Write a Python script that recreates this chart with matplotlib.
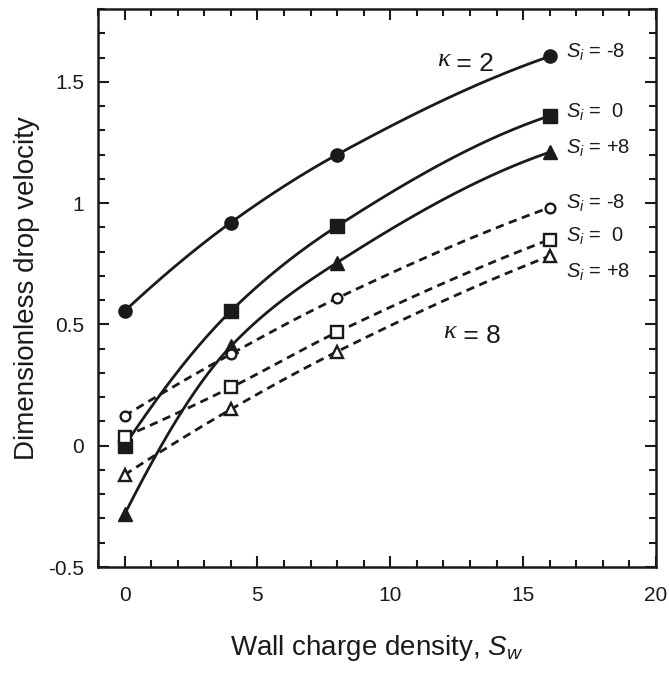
import numpy as np
import matplotlib
matplotlib.use("Agg")
import matplotlib.pyplot as plt
from matplotlib.ticker import MultipleLocator

plt.rcParams['font.family'] = ['Liberation Sans', 'DejaVu Sans']
plt.rcParams['mathtext.fontset'] = 'custom'
plt.rcParams['mathtext.rm'] = 'Liberation Sans'
plt.rcParams['mathtext.it'] = 'Liberation Sans:italic'

# Wall charge density values
sw = [0, 4, 8, 16]

# kappa = 2 (solid lines, filled markers)
k2_m8 = [0.555, 0.92, 1.20, 1.605]
k2_0 = [0.0, 0.555, 0.905, 1.36]
k2_p8 = [-0.283, 0.41, 0.755, 1.21]

# kappa = 8 (dashed lines, open markers)
k8_m8 = [0.123, 0.378, 0.608, 0.982]
k8_0 = [0.037, 0.24, 0.468, 0.85]
k8_p8 = [-0.12, 0.15, 0.388, 0.782]

series_labels = [r"$S_{i}$ = -8", r"$S_{i}$ =  0", r"$S_{i}$ = +8"]

ink = "#1a1a1a"


def pchip(x, y, n=200):
    # shape preserving cubic through the points, for the smooth curves
    x = np.asarray(x, float)
    y = np.asarray(y, float)
    h = np.diff(x)
    dl = np.diff(y) / h
    d = np.zeros_like(y)
    for k in range(1, len(x) - 1):
        if dl[k - 1] * dl[k] > 0:
            w1 = 2 * h[k] + h[k - 1]
            w2 = h[k] + 2 * h[k - 1]
            d[k] = (w1 + w2) / (w1 / dl[k - 1] + w2 / dl[k])
    d[0] = ((2 * h[0] + h[1]) * dl[0] - h[0] * dl[1]) / (h[0] + h[1])
    d[-1] = ((2 * h[-1] + h[-2]) * dl[-1] - h[-1] * dl[-2]) / (h[-1] + h[-2])
    xs = np.linspace(x[0], x[-1], n)
    k = np.clip(np.searchsorted(x, xs) - 1, 0, len(x) - 2)
    t = (xs - x[k]) / h[k]
    h00 = 2 * t**3 - 3 * t**2 + 1
    h10 = t**3 - 2 * t**2 + t
    h01 = -2 * t**3 + 3 * t**2
    h11 = t**3 - t**2
    ys = h00 * y[k] + h10 * h[k] * d[k] + h01 * y[k + 1] + h11 * h[k] * d[k + 1]
    return xs, ys


fig = plt.figure(figsize=(6.69, 6.73), dpi=100)
ax = fig.add_axes([0.1465, 0.1575, 0.834, 0.829])

# kappa = 2 curves
for y, mk, ms in [(k2_m8, 'o', 9.5), (k2_0, 's', 10), (k2_p8, '^', 10.5)]:
    xs, ys = pchip(sw, y)
    ax.plot(xs, ys, color=ink, lw=2.0, zorder=2)
    ax.plot(sw, y, ls='none', marker=mk, ms=ms, color=ink, zorder=3)

# kappa = 8 curves
for y, mk, ms in [(k8_m8, 'o', 7), (k8_0, 's', 8.5), (k8_p8, '^', 8)]:
    xs, ys = pchip(sw, y)
    ax.plot(xs, ys, color=ink, lw=2.0, ls=(0, (3.0, 2.0)), zorder=2)
    ax.plot(sw, y, ls='none', marker=mk, ms=ms, mfc='white', mec=ink,
            mew=1.7, zorder=3)

# Si labels
for yb, lab in zip([1.60, 1.353, 1.205], series_labels):
    ax.text(16.6, yb, lab, fontsize=14.5, color=ink, va='baseline', ha='left')
for yb, lab in zip([0.979, 0.841, 0.691], series_labels):
    ax.text(16.6, yb, lab, fontsize=14.5, color=ink, va='baseline', ha='left')

# kappa labels
for xk, yk, val in [(11.75, 1.565, "2"), (12.0, 0.442, "8")]:
    t = ax.text(xk, yk, "\u03ba", fontsize=19, family='Liberation Serif',
                style='italic', color=ink, va='baseline', ha='left')
    ax.annotate(" = " + val, xy=(1, 0), xycoords=t, fontsize=19, color=ink,
                va='baseline', ha='left')

ax.set_xlim(-1, 20)
ax.set_ylim(-0.5, 1.8)
ax.xaxis.set_major_locator(MultipleLocator(5))
ax.xaxis.set_minor_locator(MultipleLocator(1))
ax.yaxis.set_minor_locator(MultipleLocator(0.1))
ax.set_yticks([-0.5, 0, 0.5, 1, 1.5])
ax.set_yticklabels(["-0.5", "0", "0.5", "1", "1.5"])

ax.tick_params(which='both', direction='in', top=True, right=True,
               width=1.5, color=ink, labelcolor=ink, labelsize=15)
ax.tick_params(which='major', length=8)
ax.tick_params(which='minor', length=5)
ax.tick_params(axis='x', which='major', pad=14)
ax.tick_params(axis='y', which='major', pad=10)
for s in ax.spines.values():
    s.set_linewidth(1.8)
    s.set_color(ink)

ax.set_xlabel(r"Wall charge density, $S_{w}$", fontsize=20, color=ink,
              labelpad=20)
ax.set_ylabel("Dimensionless drop velocity", fontsize=20, color=ink,
              labelpad=6)

fig.savefig("out.png", dpi=100)
